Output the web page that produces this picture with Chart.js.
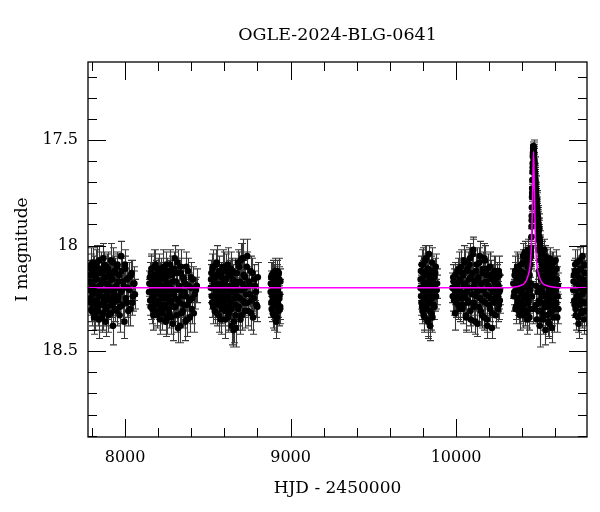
<!DOCTYPE html>
<html>
<head>
<meta charset="utf-8">
<script src="https://cdn.jsdelivr.net/npm/chart.js@4.4.1/dist/chart.umd.min.js"></script>
<style>
  html, body { margin: 0; padding: 0; background: #fff; }
</style>
</head>
<body>
<canvas id="lc" width="600" height="512"></canvas>
<script>
// OGLE photometry, HJD - 2450000 / I mag / error
const hjd = [
  // 2017
  7784, 7788, 7791, 7795, 7799, 7802, 7806, 7810, 7813, 7817,
  7821, 7824, 7828, 7832, 7835, 7839, 7843, 7847, 7850, 7854,
  7858, 7861, 7865, 7869, 7873, 7876, 7880, 7884, 7888, 7892,
  7895, 7899, 7903, 7907, 7911, 7915, 7919, 7923, 7927, 7931,
  7936, 7940, 7945, 7949, 7954, 7959, 7964, 7970, 7976, 7982,
  7989, 7996, 8002, 8009, 8016, 8024, 8031, 8039, 8047, 8056,
  // 2018
  8145, 8150, 8154, 8159, 8163, 8167, 8171, 8175, 8179, 8183,
  8187, 8190, 8194, 8198, 8202, 8205, 8209, 8213, 8217, 8220,
  8224, 8228, 8232, 8236, 8240, 8244, 8248, 8252, 8256, 8260,
  8264, 8268, 8272, 8276, 8281, 8285, 8289, 8294, 8298, 8303,
  8307, 8312, 8317, 8322, 8327, 8332, 8337, 8342, 8348, 8353,
  8359, 8365, 8371, 8377, 8384, 8391, 8398, 8406, 8415, 8428,
  // 2019
  8518, 8522, 8526, 8530, 8534, 8538, 8542, 8546, 8550, 8554,
  8557, 8561, 8565, 8569, 8573, 8576, 8580, 8584, 8588, 8592,
  8596, 8600, 8604, 8608, 8612, 8616, 8620, 8624, 8628, 8632,
  8636, 8640, 8645, 8649, 8653, 8657, 8662, 8666, 8670, 8675,
  8679, 8684, 8689, 8694, 8699, 8704, 8709, 8714, 8720, 8726,
  8732, 8738, 8744, 8751, 8758, 8765, 8773, 8781, 8790, 8799,
  // 2020
  8880, 8883, 8886, 8889, 8892, 8895, 8898, 8901, 8904, 8907,
  8910, 8913, 8916, 8919, 8922, 8925, 8928, 8931, 8934, 8937,
  // 2022
  9785, 9788, 9791, 9794, 9797, 9800, 9803, 9806, 9809, 9812,
  9815, 9818, 9821, 9824, 9827, 9830, 9833, 9836, 9839, 9842,
  9845, 9848, 9851, 9855, 9859, 9863, 9867, 9872, 9877, 9883,
  // 2023
  9978, 9983, 9988, 9994, 9999, 10004, 10009, 10014, 10019, 10024,
  10029, 10034, 10039, 10044, 10049, 10054, 10059, 10064, 10069, 10074,
  10079, 10084, 10089, 10094, 10099, 10104, 10109, 10114, 10119, 10124,
  10129, 10134, 10139, 10144, 10149, 10154, 10159, 10164, 10169, 10174,
  10179, 10184, 10189, 10194, 10199, 10204, 10209, 10214, 10219, 10224,
  10229, 10233, 10237, 10241, 10246, 10250, 10254, 10258, 10261, 10264,
  // 2024 before the event
  10346, 10352, 10357, 10362, 10367, 10371, 10375, 10379, 10383, 10387,
  10391, 10395, 10398, 10402, 10405, 10409, 10412, 10416, 10419, 10423,
  10426, 10429, 10432, 10435, 10438, 10441, 10443, 10446, 10448, 10450,
  // 2024 the event
  10452, 10454, 10455, 10456, 10457, 10458, 10459, 10460, 10461, 10462,
  10463, 10464, 10465, 10466, 10467, 10468, 10469, 10470, 10471, 10472,
  10473, 10474, 10475, 10476, 10477, 10478, 10479, 10480, 10481, 10482,
  10483, 10484, 10486, 10487, 10488, 10490, 10491, 10493, 10495, 10496,
  10498, 10500, 10502, 10504, 10506, 10508, 10511, 10514, 10458, 10466,
  // 2024 after the event
  10480, 10488, 10497, 10500, 10503, 10506, 10509, 10512, 10516, 10519,
  10522, 10525, 10528, 10531, 10534, 10537, 10540, 10543, 10546, 10549,
  10552, 10555, 10558, 10561, 10564, 10567, 10570, 10573, 10576, 10579,
  10582, 10585, 10588, 10591, 10595, 10599, 10603, 10607, 10611, 10615,
  // 2025
  10708, 10712, 10716, 10720, 10724, 10728, 10732, 10736, 10740, 10744,
  10748, 10752, 10756, 10760, 10764, 10768, 10772, 10776, 10780, 10784,

  // second set of frames in each season
  7786, 7790, 7793, 7797, 7800, 7804, 7808, 7811, 7815, 7819,
  7822, 7826, 7830, 7834, 7837, 7841, 7845, 7849, 7852, 7856,
  7860, 7863, 7867, 7871, 7875, 7878, 7882, 7886, 7890, 7893,
  7897, 7901, 7905, 7909, 7913, 7917, 7921, 7925, 7929, 7934,
  7938, 7942, 7947, 7951, 7956, 7961, 7967, 7973, 7979, 7985,
  7992, 7999, 8005, 8012, 8020, 8027, 8035, 8043, 8051, 8059,

  8147, 8152, 8156, 8161, 8165, 8169, 8173, 8177, 8181, 8185,
  8189, 8192, 8196, 8200, 8204, 8207, 8211, 8215, 8219, 8222,
  8226, 8230, 8234, 8238, 8242, 8246, 8250, 8254, 8258, 8262,
  8266, 8270, 8274, 8279, 8283, 8287, 8291, 8296, 8300, 8305,
  8310, 8315, 8320, 8325, 8330, 8335, 8340, 8345, 8351, 8356,
  8362, 8368, 8374, 8381, 8388, 8395, 8402, 8410, 8420, 8433,

  8520, 8524, 8528, 8532, 8536, 8540, 8544, 8548, 8552, 8555,
  8559, 8563, 8567, 8571, 8574, 8578, 8582, 8586, 8590, 8594,
  8598, 8602, 8606, 8610, 8614, 8618, 8622, 8626, 8630, 8634,
  8638, 8643, 8647, 8651, 8655, 8660, 8664, 8668, 8672, 8677,
  8682, 8687, 8692, 8697, 8702, 8707, 8712, 8717, 8723, 8729,
  8735, 8741, 8748, 8755, 8762, 8769, 8777, 8785, 8794, 8802,

  8881, 8884, 8887, 8890, 8893, 8896, 8899, 8902, 8905, 8908,
  8911, 8914, 8917, 8920, 8923, 8926, 8929, 8932, 8935, 8938,

  9786, 9789, 9792, 9795, 9798, 9801, 9804, 9807, 9810, 9813,
  9816, 9819, 9822, 9825, 9828, 9831, 9834, 9837, 9840, 9843,
  9846, 9849, 9853, 9857, 9861, 9865, 9869, 9874, 9879, 9885,

  9980, 9985, 9991, 9996, 10001, 10006, 10011, 10016, 10021, 10026,
  10031, 10036, 10041, 10046, 10051, 10056, 10061, 10066, 10071, 10076,
  10081, 10086, 10091, 10096, 10101, 10106, 10111, 10116, 10121, 10126,
  10131, 10136, 10141, 10146, 10151, 10156, 10161, 10166, 10171, 10176,
  10181, 10186, 10191, 10196, 10201, 10206, 10211, 10216, 10221, 10226,
  10231, 10235, 10239, 10243, 10248, 10252, 10256, 10259, 10262, 10265,

  10349, 10354, 10359, 10364, 10369, 10373, 10377, 10381, 10385, 10389,
  10393, 10397, 10400, 10404, 10407, 10410, 10414, 10418, 10421, 10424,
  10427, 10430, 10433, 10436, 10439, 10442, 10444, 10447, 10449, 10451,

  10453, 10457, 10460, 10463, 10465, 10467, 10469, 10471, 10474, 10477,
  10479, 10482, 10485, 10489, 10492, 10494, 10497, 10499, 10503, 10507,

  10484, 10492, 10498, 10501, 10505, 10508, 10511, 10514, 10517, 10521,
  10524, 10527, 10530, 10533, 10536, 10539, 10542, 10545, 10548, 10551,
  10554, 10557, 10560, 10563, 10566, 10569, 10572, 10575, 10578, 10581,
  10584, 10587, 10590, 10593, 10597, 10601, 10605, 10609, 10613, 10617,

  10710, 10714, 10718, 10722, 10726, 10730, 10734, 10738, 10742, 10746,
  10750, 10754, 10758, 10762, 10766, 10770, 10774, 10778, 10782, 10786
];

const mag = [
  18.21, 18.14, 18.27, 18.09, 18.31, 18.18, 18.23, 18.12, 18.34, 18.20,
  18.16, 18.26, 18.08, 18.29, 18.22, 18.13, 18.35, 18.19, 18.24, 18.11,
  18.28, 18.17, 18.32, 18.06, 18.25, 18.15, 18.21, 18.30, 18.10, 18.23,
  18.18, 18.33, 18.13, 18.26, 18.20, 18.07, 18.28, 18.16, 18.38, 18.22,
  18.12, 18.25, 18.19, 18.31, 18.09, 18.24, 18.14, 18.29, 18.05, 18.21,
  18.17, 18.36, 18.11, 18.27, 18.20, 18.15, 18.30, 18.13, 18.24, 18.18,

  18.22, 18.15, 18.29, 18.11, 18.25, 18.19, 18.33, 18.14, 18.23, 18.09,
  18.27, 18.18, 18.31, 18.12, 18.21, 18.26, 18.16, 18.35, 18.20, 18.13,
  18.24, 18.30, 18.10, 18.19, 18.28, 18.15, 18.22, 18.34, 18.12, 18.25,
  18.18, 18.32, 18.09, 18.27, 18.21, 18.14, 18.37, 18.23, 18.11, 18.29,
  18.17, 18.33, 18.08, 18.26, 18.20, 18.38, 18.13, 18.24, 18.31, 18.16,
  18.22, 18.36, 18.10, 18.28, 18.19, 18.34, 18.15, 18.25, 18.32, 18.21,

  18.20, 18.13, 18.27, 18.10, 18.24, 18.17, 18.31, 18.15, 18.22, 18.08,
  18.28, 18.19, 18.33, 18.12, 18.25, 18.21, 18.14, 18.30, 18.18, 18.26,
  18.11, 18.23, 18.35, 18.16, 18.20, 18.29, 18.09, 18.24, 18.32, 18.14,
  18.27, 18.19, 18.38, 18.12, 18.22, 18.36, 18.17, 18.28, 18.39, 18.13,
  18.21, 18.30, 18.10, 18.25, 18.07, 18.33, 18.18, 18.06, 18.27, 18.15,
  18.23, 18.05, 18.31, 18.19, 18.12, 18.26, 18.34, 18.16, 18.22, 18.29,

  18.22, 18.15, 18.30, 18.19, 18.26, 18.13, 18.33, 18.21, 18.17, 18.28,
  18.24, 18.36, 18.18, 18.12, 18.27, 18.20, 18.31, 18.16, 18.23, 18.29,

  18.20, 18.12, 18.27, 18.16, 18.31, 18.09, 18.23, 18.18, 18.34, 18.14,
  18.25, 18.06, 18.29, 18.21, 18.11, 18.36, 18.17, 18.04, 18.26, 18.38,
  18.13, 18.22, 18.32, 18.08, 18.19, 18.28, 18.15, 18.24, 18.10, 18.21,

  18.20, 18.15, 18.26, 18.32, 18.18, 18.23, 18.12, 18.28, 18.17, 18.21,
  18.10, 18.25, 18.30, 18.14, 18.19, 18.08, 18.33, 18.22, 18.11, 18.27,
  18.16, 18.06, 18.35, 18.20, 18.13, 18.02, 18.29, 18.17, 18.24, 18.09,
  18.37, 18.15, 18.21, 18.05, 18.31, 18.18, 18.26, 18.11, 18.34, 18.07,
  18.23, 18.14, 18.38, 18.19, 18.28, 18.10, 18.25, 18.16, 18.32, 18.21,
  18.13, 18.27, 18.18, 18.24, 18.18, 18.15, 18.30, 18.12, 18.22, 18.26,

  18.18, 18.22, 18.12, 18.29, 18.16, 18.25, 18.11, 18.31, 18.19, 18.14,
  18.27, 18.09, 18.23, 18.33, 18.05, 18.20, 18.28, 18.03, 18.15, 18.24,
  18.32, 18.07, 18.19, 18.02, 18.26, 18.11, 18.34, 18.06, 18.21, 18.04,

  18.05, 18.01, 17.96, 17.91, 17.86, 17.82, 17.77, 17.73, 17.69, 17.65,
  17.61, 17.58, 17.56, 17.54, 17.53, 17.53, 17.55, 17.57, 17.56, 17.60,
  17.62, 17.61, 17.65, 17.67, 17.66, 17.69, 17.71, 17.70, 17.73, 17.75,
  17.74, 17.77, 17.79, 17.78, 17.81, 17.83, 17.82, 17.86, 17.88, 17.87,
  17.90, 17.93, 17.92, 17.96, 17.98, 18.01, 18.03, 18.05, 18.24, 18.30,

  18.19, 18.35, 18.02, 18.26, 17.98, 18.38, 18.14, 18.04, 18.31, 18.09,
  18.22, 18.06, 18.33, 18.15, 18.27, 18.05, 18.40, 18.18, 18.11, 18.29,
  18.07, 18.24, 18.36, 18.13, 18.20, 18.32, 18.10, 18.26, 18.17, 18.39,
  18.12, 18.23, 18.08, 18.30, 18.16, 18.29, 18.21, 18.11, 18.34, 18.19,

  18.21, 18.14, 18.28, 18.09, 18.33, 18.18, 18.24, 18.12, 18.37, 18.20,
  18.07, 18.26, 18.16, 18.31, 18.05, 18.22, 18.35, 18.13, 18.27, 18.19,

  // second set
  18.17, 18.25, 18.11, 18.30, 18.19, 18.08, 18.27, 18.22, 18.14, 18.33,
  18.20, 18.10, 18.26, 18.16, 18.31, 18.23, 18.07, 18.28, 18.13, 18.21,
  18.34, 18.18, 18.12, 18.27, 18.09, 18.24, 18.36, 18.15, 18.22, 18.29,
  18.11, 18.19, 18.25, 18.14, 18.32, 18.21, 18.16, 18.08, 18.27, 18.23,
  18.30, 18.13, 18.20, 18.10, 18.26, 18.17, 18.33, 18.22, 18.12, 18.28,
  18.19, 18.09, 18.25, 18.16, 18.31, 18.21, 18.14, 18.27, 18.18, 18.23,

  18.18, 18.26, 18.13, 18.22, 18.30, 18.16, 18.24, 18.10, 18.28, 18.20,
  18.14, 18.33, 18.21, 18.17, 18.27, 18.11, 18.23, 18.29, 18.15, 18.19,
  18.32, 18.12, 18.25, 18.21, 18.16, 18.36, 18.09, 18.24, 18.18, 18.30,
  18.14, 18.26, 18.20, 18.34, 18.11, 18.23, 18.17, 18.29, 18.06, 18.25,
  18.21, 18.13, 18.39, 18.19, 18.27, 18.10, 18.32, 18.22, 18.15, 18.28,
  18.18, 18.24, 18.35, 18.12, 18.26, 18.20, 18.30, 18.16, 18.23, 18.19,

  18.16, 18.24, 18.11, 18.29, 18.19, 18.14, 18.26, 18.21, 18.09, 18.32,
  18.18, 18.23, 18.13, 18.27, 18.20, 18.35, 18.15, 18.22, 18.10, 18.28,
  18.24, 18.17, 18.31, 18.12, 18.26, 18.19, 18.34, 18.14, 18.21, 18.27,
  18.11, 18.30, 18.22, 18.16, 18.40, 18.25, 18.13, 18.33, 18.19, 18.24,
  18.08, 18.29, 18.17, 18.35, 18.21, 18.06, 18.26, 18.14, 18.31, 18.20,
  18.10, 18.27, 18.17, 18.23, 18.32, 18.13, 18.25, 18.19, 18.28, 18.15,

  18.18, 18.27, 18.14, 18.24, 18.32, 18.20, 18.16, 18.29, 18.22, 18.12,
  18.26, 18.19, 18.34, 18.15, 18.21, 18.28, 18.13, 18.25, 18.30, 18.17,

  18.16, 18.24, 18.09, 18.29, 18.21, 18.13, 18.33, 18.18, 18.26, 18.07,
  18.22, 18.30, 18.14, 18.19, 18.35, 18.11, 18.27, 18.23, 18.15, 18.31,
  18.20, 18.12, 18.25, 18.34, 18.17, 18.22, 18.29, 18.13, 18.24, 18.18,

  18.24, 18.17, 18.21, 18.14, 18.27, 18.19, 18.25, 18.11, 18.30, 18.16,
  18.22, 18.13, 18.28, 18.07, 18.24, 18.18, 18.34, 18.12, 18.26, 18.20,
  18.09, 18.31, 18.15, 18.23, 18.04, 18.27, 18.19, 18.36, 18.12, 18.22,
  18.16, 18.29, 18.08, 18.25, 18.18, 18.33, 18.13, 18.21, 18.06, 18.27,
  18.17, 18.35, 18.11, 18.24, 18.20, 18.30, 18.14, 18.39, 18.22, 18.16,
  18.26, 18.12, 18.33, 18.20, 18.15, 18.24, 18.19, 18.28, 18.14, 18.21,

  18.24, 18.14, 18.30, 18.19, 18.10, 18.27, 18.21, 18.15, 18.33, 18.12,
  18.22, 18.17, 18.29, 18.08, 18.25, 18.13, 18.31, 18.19, 18.06, 18.23,
  18.16, 18.35, 18.10, 18.27, 18.05, 18.21, 18.14, 18.30, 18.09, 18.18,

  18.03, 17.88, 17.75, 17.63, 17.57, 17.55, 17.54, 17.59, 17.64, 17.68,
  17.72, 17.76, 17.80, 17.84, 17.85, 17.89, 17.91, 17.95, 17.97, 18.00,

  18.28, 18.22, 18.31, 18.12, 18.20, 18.07, 18.27, 18.16, 18.03, 18.24,
  18.35, 18.11, 18.19, 18.02, 18.29, 18.14, 18.23, 18.08, 18.33, 18.17,
  18.26, 18.10, 18.21, 18.37, 18.06, 18.28, 18.15, 18.22, 18.31, 18.09,
  18.25, 18.18, 18.34, 18.13, 18.20, 18.07, 18.27, 18.16, 18.24, 18.30,

  18.17, 18.26, 18.12, 18.30, 18.21, 18.08, 18.24, 18.34, 18.15, 18.28,
  18.19, 18.11, 18.32, 18.23, 18.16, 18.27, 18.09, 18.21, 18.31, 18.18
];

const magErr = [
  0.06, 0.07, 0.06, 0.08, 0.07, 0.06, 0.05, 0.07, 0.08, 0.06,
  0.07, 0.06, 0.08, 0.07, 0.05, 0.06, 0.09, 0.07, 0.06, 0.08,
  0.07, 0.06, 0.08, 0.07, 0.06, 0.05, 0.07, 0.08, 0.06, 0.07,
  0.06, 0.08, 0.07, 0.06, 0.07, 0.08, 0.06, 0.07, 0.09, 0.06,
  0.07, 0.06, 0.08, 0.07, 0.06, 0.07, 0.05, 0.08, 0.07, 0.06,
  0.07, 0.08, 0.06, 0.07, 0.06, 0.07, 0.08, 0.06, 0.07, 0.06,

  0.06, 0.07, 0.06, 0.07, 0.08, 0.06, 0.07, 0.06, 0.05, 0.07,
  0.06, 0.08, 0.07, 0.06, 0.07, 0.06, 0.08, 0.07, 0.06, 0.07,
  0.05, 0.07, 0.08, 0.06, 0.07, 0.06, 0.07, 0.08, 0.06, 0.07,
  0.06, 0.07, 0.07, 0.06, 0.08, 0.07, 0.08, 0.06, 0.08, 0.07,
  0.06, 0.08, 0.06, 0.07, 0.06, 0.08, 0.07, 0.06, 0.08, 0.07,
  0.06, 0.09, 0.07, 0.08, 0.06, 0.07, 0.07, 0.08, 0.09, 0.06,

  0.07, 0.06, 0.07, 0.08, 0.06, 0.07, 0.06, 0.07, 0.06, 0.08,
  0.07, 0.06, 0.08, 0.07, 0.06, 0.07, 0.06, 0.07, 0.06, 0.07,
  0.08, 0.06, 0.09, 0.07, 0.06, 0.07, 0.08, 0.06, 0.08, 0.07,
  0.06, 0.07, 0.09, 0.06, 0.07, 0.10, 0.06, 0.07, 0.09, 0.06,
  0.07, 0.08, 0.07, 0.06, 0.08, 0.07, 0.06, 0.09, 0.07, 0.06,
  0.07, 0.08, 0.07, 0.06, 0.07, 0.06, 0.08, 0.07, 0.06, 0.07,

  0.06, 0.07, 0.06, 0.07, 0.06, 0.06, 0.07, 0.06, 0.07, 0.06,
  0.07, 0.08, 0.06, 0.05, 0.07, 0.06, 0.07, 0.06, 0.07, 0.06,

  0.06, 0.07, 0.06, 0.07, 0.06, 0.08, 0.06, 0.07, 0.07, 0.06,
  0.07, 0.06, 0.07, 0.06, 0.07, 0.08, 0.06, 0.04, 0.07, 0.07,
  0.06, 0.07, 0.08, 0.07, 0.06, 0.07, 0.06, 0.07, 0.06, 0.07,

  0.07, 0.06, 0.07, 0.08, 0.06, 0.07, 0.06, 0.07, 0.06, 0.07,
  0.08, 0.06, 0.07, 0.06, 0.07, 0.06, 0.07, 0.06, 0.08, 0.07,
  0.06, 0.07, 0.06, 0.07, 0.08, 0.06, 0.07, 0.06, 0.07, 0.08,
  0.06, 0.07, 0.06, 0.07, 0.07, 0.06, 0.07, 0.08, 0.06, 0.07,
  0.06, 0.07, 0.06, 0.07, 0.06, 0.07, 0.06, 0.07, 0.06, 0.07,
  0.08, 0.06, 0.07, 0.06, 0.09, 0.07, 0.06, 0.07, 0.08, 0.06,

  0.07, 0.06, 0.07, 0.06, 0.07, 0.06, 0.07, 0.06, 0.07, 0.06,
  0.07, 0.06, 0.07, 0.06, 0.06, 0.07, 0.06, 0.05, 0.07, 0.06,
  0.07, 0.06, 0.07, 0.05, 0.06, 0.07, 0.06, 0.05, 0.06, 0.05,

  0.05, 0.05, 0.04, 0.04, 0.04, 0.04, 0.04, 0.03, 0.03, 0.03,
  0.03, 0.03, 0.03, 0.03, 0.02, 0.03, 0.03, 0.03, 0.03, 0.03,
  0.03, 0.03, 0.03, 0.03, 0.03, 0.03, 0.03, 0.03, 0.03, 0.04,
  0.04, 0.04, 0.04, 0.04, 0.04, 0.04, 0.04, 0.04, 0.04, 0.04,
  0.05, 0.05, 0.05, 0.05, 0.05, 0.05, 0.05, 0.06, 0.07, 0.07,

  0.07, 0.07, 0.05, 0.06, 0.05, 0.10, 0.06, 0.05, 0.07, 0.06,
  0.06, 0.05, 0.07, 0.06, 0.07, 0.05, 0.07, 0.06, 0.06, 0.07,
  0.05, 0.06, 0.07, 0.06, 0.06, 0.07, 0.06, 0.07, 0.06, 0.07,
  0.06, 0.06, 0.05, 0.07, 0.06, 0.06, 0.07, 0.06, 0.07, 0.06,

  0.06, 0.07, 0.06, 0.07, 0.07, 0.06, 0.07, 0.06, 0.07, 0.06,
  0.06, 0.07, 0.06, 0.07, 0.05, 0.06, 0.07, 0.06, 0.07, 0.06,

  // second set
  0.07, 0.06, 0.07, 0.06, 0.08, 0.07, 0.06, 0.07, 0.06, 0.07,
  0.06, 0.08, 0.07, 0.06, 0.07, 0.06, 0.07, 0.07, 0.06, 0.08,
  0.07, 0.06, 0.07, 0.08, 0.06, 0.07, 0.07, 0.06, 0.07, 0.06,
  0.08, 0.06, 0.07, 0.06, 0.07, 0.08, 0.06, 0.07, 0.06, 0.07,
  0.06, 0.07, 0.08, 0.06, 0.07, 0.06, 0.08, 0.07, 0.06, 0.07,
  0.06, 0.07, 0.06, 0.08, 0.07, 0.06, 0.07, 0.06, 0.08, 0.07,

  0.06, 0.07, 0.08, 0.06, 0.07, 0.06, 0.07, 0.08, 0.06, 0.07,
  0.07, 0.06, 0.07, 0.06, 0.08, 0.07, 0.06, 0.07, 0.06, 0.07,
  0.08, 0.06, 0.07, 0.06, 0.07, 0.07, 0.06, 0.08, 0.07, 0.06,
  0.07, 0.06, 0.07, 0.08, 0.06, 0.07, 0.06, 0.07, 0.06, 0.08,
  0.07, 0.06, 0.07, 0.06, 0.07, 0.08, 0.06, 0.07, 0.06, 0.07,
  0.06, 0.07, 0.08, 0.06, 0.07, 0.06, 0.07, 0.06, 0.07, 0.08,

  0.07, 0.06, 0.07, 0.08, 0.06, 0.07, 0.06, 0.07, 0.07, 0.06,
  0.06, 0.07, 0.08, 0.06, 0.07, 0.07, 0.06, 0.07, 0.08, 0.06,
  0.07, 0.06, 0.07, 0.08, 0.06, 0.07, 0.07, 0.06, 0.07, 0.06,
  0.08, 0.07, 0.06, 0.07, 0.08, 0.06, 0.07, 0.07, 0.06, 0.07,
  0.06, 0.07, 0.08, 0.07, 0.06, 0.07, 0.06, 0.07, 0.08, 0.06,
  0.07, 0.06, 0.07, 0.06, 0.08, 0.07, 0.06, 0.07, 0.06, 0.07,

  0.06, 0.07, 0.06, 0.07, 0.07, 0.06, 0.07, 0.06, 0.07, 0.06,
  0.07, 0.06, 0.07, 0.06, 0.07, 0.06, 0.07, 0.06, 0.07, 0.06,

  0.07, 0.06, 0.07, 0.06, 0.07, 0.06, 0.07, 0.06, 0.07, 0.07,
  0.06, 0.07, 0.06, 0.07, 0.08, 0.06, 0.07, 0.06, 0.07, 0.07,
  0.06, 0.07, 0.06, 0.07, 0.06, 0.07, 0.06, 0.07, 0.06, 0.07,

  0.07, 0.06, 0.07, 0.06, 0.07, 0.06, 0.07, 0.08, 0.06, 0.07,
  0.06, 0.07, 0.06, 0.07, 0.06, 0.07, 0.07, 0.06, 0.07, 0.06,
  0.08, 0.07, 0.06, 0.07, 0.07, 0.06, 0.07, 0.06, 0.08, 0.07,
  0.06, 0.07, 0.07, 0.06, 0.07, 0.06, 0.07, 0.06, 0.07, 0.06,
  0.07, 0.06, 0.07, 0.06, 0.07, 0.06, 0.07, 0.05, 0.06, 0.07,
  0.06, 0.07, 0.06, 0.07, 0.06, 0.07, 0.06, 0.07, 0.06, 0.07,

  0.07, 0.06, 0.07, 0.06, 0.07, 0.06, 0.07, 0.06, 0.07, 0.06,
  0.07, 0.06, 0.07, 0.06, 0.07, 0.06, 0.07, 0.06, 0.05, 0.06,
  0.07, 0.07, 0.06, 0.07, 0.05, 0.06, 0.07, 0.06, 0.06, 0.07,

  0.05, 0.04, 0.04, 0.03, 0.03, 0.03, 0.03, 0.03, 0.03, 0.03,
  0.03, 0.04, 0.04, 0.04, 0.04, 0.04, 0.04, 0.05, 0.05, 0.05,

  0.07, 0.06, 0.07, 0.06, 0.06, 0.05, 0.07, 0.06, 0.05, 0.06,
  0.07, 0.06, 0.06, 0.05, 0.07, 0.06, 0.06, 0.06, 0.07, 0.06,
  0.06, 0.06, 0.06, 0.07, 0.05, 0.07, 0.06, 0.06, 0.07, 0.06,
  0.06, 0.06, 0.07, 0.06, 0.06, 0.05, 0.07, 0.06, 0.06, 0.07,

  0.06, 0.07, 0.06, 0.07, 0.06, 0.06, 0.07, 0.07, 0.06, 0.07,
  0.06, 0.06, 0.07, 0.06, 0.06, 0.07, 0.05, 0.06, 0.07, 0.06
];

// microlensing model curve (magenta)
const modelHjd = [7700, 10300, 10344, 10387, 10417, 10436, 10450, 10458, 10464, 10468,
                  10472, 10478, 10486, 10500, 10519, 10549, 10592, 10660, 10900];
const modelMag = [18.2, 18.2, 18.197, 18.19, 18.175, 18.14, 18.07, 17.93, 17.69, 17.555,
                  17.69, 17.93, 18.07, 18.14, 18.175, 18.19, 18.197, 18.2, 18.2];

const xLabels = [8000, 9000, 10000];
const yLabels = [17.5, 18, 18.5];
const chartTitle = 'OGLE-2024-BLG-0641';

const serif = '"DejaVu Serif", "Liberation Serif", serif';
Chart.defaults.font.family = serif;
Chart.defaults.font.size = 16;
Chart.defaults.color = '#000';

const points = hjd.map((t, i) => ({x: t, y: mag[i]}));
const modelPoints = modelHjd.map((t, i) => ({x: t, y: modelMag[i]}));

// error bars under the points
const errorBars = {
    id: 'errorBars',
    beforeDatasetsDraw(chart) {
        const {ctx, chartArea: a, scales: {x, y}} = chart;
        ctx.save();
        ctx.beginPath();
        ctx.rect(a.left, a.top, a.width, a.height);
        ctx.clip();
        ctx.strokeStyle = '#383838';
        ctx.lineWidth = 1.1;
        ctx.beginPath();
        hjd.forEach((t, i) => {
            const px = Math.round(x.getPixelForValue(t)) + 0.5;
            const top = y.getPixelForValue(mag[i] - magErr[i]);
            const bot = y.getPixelForValue(mag[i] + magErr[i]);
            ctx.moveTo(px, top);
            ctx.lineTo(px, bot);
            ctx.moveTo(px - 3.5, top);
            ctx.lineTo(px + 3.5, top);
            ctx.moveTo(px - 3.5, bot);
            ctx.lineTo(px + 3.5, bot);
        });
        ctx.stroke();
        ctx.restore();
    }
};

// box frame with inward ticks on all four sides, plus the title
const frame = {
    id: 'frame',
    afterDraw(chart) {
        const {ctx, chartArea: a, scales: {x, y}} = chart;
        ctx.save();
        ctx.strokeStyle = '#000';
        ctx.lineWidth = 1.3;
        ctx.strokeRect(a.left, a.top, a.width, a.height);

        ctx.lineWidth = 1;
        ctx.beginPath();
        for (let v = 7800; v <= 10800; v += 200) {
            if (v < x.min || v > x.max) continue;
            const px = Math.round(x.getPixelForValue(v)) + 0.5;
            const len = v % 1000 === 0 ? 18 : 9;
            ctx.moveTo(px, a.bottom);
            ctx.lineTo(px, a.bottom - len);
            ctx.moveTo(px, a.top);
            ctx.lineTo(px, a.top + len);
        }
        for (let k = 172; k <= 189; k++) {
            const v = k / 10;
            if (v < y.min || v > y.max) continue;
            const py = Math.round(y.getPixelForValue(v)) + 0.5;
            const len = k % 5 === 0 ? 18 : 9;
            ctx.moveTo(a.left, py);
            ctx.lineTo(a.left + len, py);
            ctx.moveTo(a.right, py);
            ctx.lineTo(a.right - len, py);
        }
        ctx.stroke();

        ctx.fillStyle = '#000';
        ctx.font = '17.5px ' + serif;
        ctx.textAlign = 'center';
        ctx.textBaseline = 'middle';
        ctx.fillText(chartTitle, (a.left + a.right) / 2, 35);
        ctx.restore();
    }
};

new Chart(document.getElementById('lc'), {
    type: 'scatter',
    data: {
        datasets: [
            {
                label: 'model',
                data: modelPoints,
                showLine: true,
                borderColor: '#ff00ff',
                borderWidth: 1.5,
                pointRadius: 0,
                cubicInterpolationMode: 'monotone',
                order: 0
            },
            {
                label: 'OGLE I',
                data: points,
                pointRadius: 3.3,
                pointBackgroundColor: '#000',
                pointBorderWidth: 0,
                order: 1
            }
        ]
    },
    options: {
        responsive: false,
        animation: false,
        layout: {padding: {top: 62, right: 13, left: 0, bottom: 0}},
        plugins: {
            legend: {display: false},
            tooltip: {enabled: false},
            title: {display: false}
        },
        scales: {
            x: {
                type: 'linear',
                min: 7776,
                max: 10791,
                grid: {display: false, drawTicks: false},
                border: {display: false},
                afterBuildTicks: s => { s.ticks = xLabels.map(v => ({value: v})); },
                afterFit: s => { s.height = 75; },
                ticks: {padding: 11, callback: v => String(v)},
                title: {display: true, text: 'HJD - 2450000', font: {size: 17}, padding: {top: 0, bottom: 13}}
            },
            y: {
                type: 'linear',
                reverse: true,
                min: 17.131,
                max: 18.906,
                grid: {display: false, drawTicks: false},
                border: {display: false},
                afterBuildTicks: s => { s.ticks = yLabels.map(v => ({value: v})); },
                afterFit: s => { s.width = 88; },
                ticks: {padding: 10, callback: v => String(v)},
                title: {display: true, text: 'I magnitude', font: {size: 17}, padding: {top: 12, bottom: 0}}
            }
        }
    },
    plugins: [errorBars, frame]
});
</script>
</body>
</html>
